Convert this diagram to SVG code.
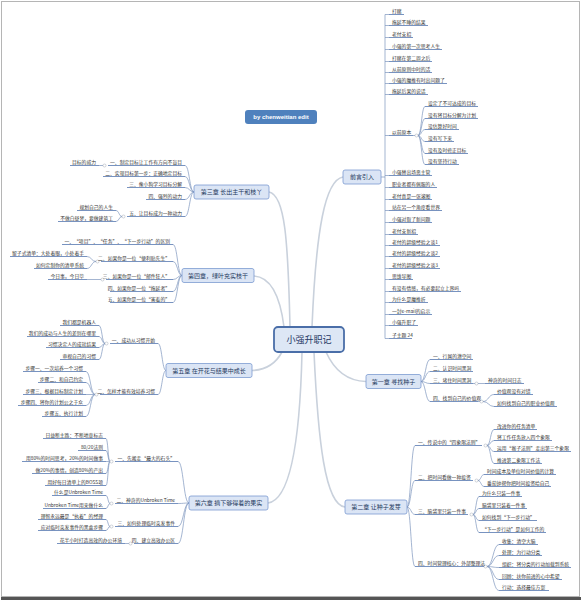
<svg xmlns="http://www.w3.org/2000/svg" width="582" height="602" viewBox="0 0 582 602">
<style>
text{font-family:"Noto Sans CJK SC","Noto Sans",sans-serif}
.t{font-size:4.8px;fill:#333}
.e{text-anchor:end}
.u{stroke:#5577b0;stroke-width:0.8;fill:none}
.f{stroke:#7d95bd;stroke-width:0.7;fill:none}
.m{stroke:#c9d1dc;stroke-width:1.6;fill:none;stroke-linecap:round}
.ch{fill:#dbe5f5;stroke:#7b9bd0;stroke-width:0.8}
.ct{font-size:6px;fill:#1f3a60;text-anchor:middle}
.d{fill:#fff;stroke:#a0a8b4;stroke-width:0.5}
</style>
<rect x="0" y="0" width="582" height="602" fill="#fff"/>
<rect x="1.5" y="1.5" width="578" height="595" fill="#fff" stroke="#b5b5b5" stroke-width="1"/>
<rect x="1" y="597" width="580" height="3" fill="#555"/>

<g id="connectors">
<path class="m" d="M312 327 C316 230 325 180 343 177"/>
<path class="m" d="M290 327 C288 240 285 195 269 192"/>
<path class="m" d="M284 327 C280 295 270 277 254 276"/>
<path class="m" d="M282 352 C275 365 265 370 252 370.5"/>
<path class="m" d="M326 352 C335 372 348 381 366 381.5"/>
<path class="m" d="M314 352 C318 440 325 505 345 507"/>
<path class="m" d="M302 352 C300 440 290 500 268 503"/>
<!-- 前言引入 fan -->
<path class="f" d="M381 177H385V14.5H389M385 338.5V177M385 25.5H389M385 37.5H389M385 49.5H389M385 61.5H389M385 72.5H389M385 83.5H389M385 94.5H389M385 135.5H389M385 175.5H389M385 187.5H389M385 199.5H389M385 210.5H389M385 222.5H389M385 234.5H389M385 245.5H389M385 256.5H389M385 268.5H389M385 279.5H389M385 291.5H389M385 302.5H389M385 314.5H389M385 325.5H389M385 338.5H389"/>
<path class="f" d="M418 135.5C421.5 135.5 421.5 106.5 425 106.5M418 135.5C421.5 135.5 421.5 118.5 425 118.5M418 135.5C421.5 135.5 421.5 129.5 425 129.5M418 135.5C421.5 135.5 421.5 141.5 425 141.5M418 135.5C421.5 135.5 421.5 153.5 425 153.5M418 135.5C421.5 135.5 421.5 164.5 425 164.5M413 135.5H415"/>
<!-- 第一章 -->
<path class="f" d="M421 381.5C425.5 381.5 425.5 359.5 430 359.5M421 381.5C425.5 381.5 425.5 371.5 430 371.5M421 381.5C425.5 381.5 425.5 383.5 430 383.5M421 381.5C425.5 381.5 425.5 401.5 430 401.5"/>
<path class="f" d="M473 383.5H475M478 383.5H485M478 401.5H480M483 401.5C488.5 401.5 488.5 394.5 494 394.5M483 401.5C488.5 401.5 488.5 406.5 494 406.5"/>
<!-- 第二章 -->
<path class="f" d="M407 507C411 507 411 445.5 415 445.5M407 507C411 507 411 480.5 415 480.5M407 507C411 507 411 514.5 415 514.5M407 507C411 507 411 566.5 415 566.5"/>
<path class="f" d="M487 445.5C490.5 445.5 490.5 429.5 494 429.5M487 445.5C490.5 445.5 490.5 440.5 494 440.5M487 445.5C490.5 445.5 490.5 451.5 494 451.5M487 445.5C490.5 445.5 490.5 463.5 494 463.5"/>
<path class="f" d="M478 480.5C481 480.5 481 474.5 484 474.5M478 480.5C481 480.5 481 486.5 484 486.5"/>
<path class="f" d="M473 514.5C476 514.5 476 496.5 479 496.5M473 514.5C476 514.5 476 508.5 479 508.5M473 514.5C476 514.5 476 520.5 479 520.5M473 514.5C476 514.5 476 532.5 479 532.5"/>
<path class="f" d="M487 566.5C493 566.5 493 544.5 499 544.5M487 566.5C493 566.5 493 555.5 499 555.5M487 566.5C493 566.5 493 567.5 499 567.5M487 566.5C493 566.5 493 579.5 499 579.5M487 566.5C493 566.5 493 590.5 499 590.5"/>
<!-- 第三章 -->
<path class="f" d="M194 192C189.5 192 189.5 165.5 185 165.5M194 192C189.5 192 189.5 176.5 185 176.5M194 192C189.5 192 189.5 187.5 185 187.5M194 192C189.5 192 189.5 199.5 185 199.5M194 192C189.5 192 189.5 216.5 185 216.5"/>
<path class="f" d="M103 165.5H99M122 216.5C119 216.5 119 210.5 116 210.5M122 216.5C119 216.5 119 221.5 116 221.5"/>
<!-- 第四章 -->
<path class="f" d="M182 275.5C177.5 275.5 177.5 244.5 173 244.5M182 275.5C177.5 275.5 177.5 261.5 173 261.5M182 275.5C177.5 275.5 177.5 279.5 173 279.5M182 275.5C177.5 275.5 177.5 291.5 173 291.5M182 275.5C177.5 275.5 177.5 302.5 173 302.5"/>
<path class="f" d="M96 261.5C91.5 261.5 91.5 256.5 87 256.5M96 261.5C91.5 261.5 91.5 268.5 87 268.5M101 279.5H87"/>
<!-- 第五章 -->
<path class="f" d="M166 370.5C162 370.5 162 343.5 158 343.5M166 370.5C162 370.5 162 394.5 158 394.5"/>
<path class="f" d="M105 343.5C102 343.5 102 325.5 99 325.5M105 343.5C102 343.5 102 336.5 99 336.5M105 343.5C102 343.5 102 347.5 99 347.5M105 343.5C102 343.5 102 359.5 99 359.5"/>
<path class="f" d="M95 394.5C90.5 394.5 90.5 371.5 86 371.5M95 394.5C90.5 394.5 90.5 382.5 86 382.5M95 394.5H86M95 394.5C90.5 394.5 90.5 405.5 86 405.5M95 394.5C90.5 394.5 90.5 416.5 86 416.5"/>
<!-- 第六章 -->
<path class="f" d="M189 503C183.5 503 183.5 461.5 178 461.5M189 503C183.5 503 183.5 503.5 178 503.5M189 503C183.5 503 183.5 526.5 178 526.5M189 503C183.5 503 183.5 543.5 178 543.5"/>
<path class="f" d="M110 461.5C108 461.5 108 438.5 106 438.5M110 461.5C108 461.5 108 450.5 106 450.5M110 461.5H106M110 461.5C108 461.5 108 473.5 106 473.5M110 461.5C108 461.5 108 485.5 106 485.5"/>
<path class="f" d="M110 503.5C108 503.5 108 495.5 106 495.5M110 503.5C108 503.5 108 508.5 106 508.5M110 526.5C108 526.5 108 519.5 106 519.5M110 526.5C108 526.5 108 530.5 106 530.5M129 543.5H125"/>
<g id="toggles">
<circle class="d" cx="416.5" cy="135.5" r="1.5"/><circle class="d" cx="476.5" cy="383.5" r="1.5"/><circle class="d" cx="481.5" cy="401.5" r="1.5"/>
<circle class="d" cx="485.5" cy="445.5" r="1.5"/><circle class="d" cx="476.5" cy="480.5" r="1.5"/><circle class="d" cx="471.5" cy="514.5" r="1.5"/><circle class="d" cx="485.5" cy="566.5" r="1.5"/>
<circle class="d" cx="104.5" cy="165.5" r="1.5"/><circle class="d" cx="123.5" cy="216.5" r="1.5"/><circle class="d" cx="97.5" cy="261.5" r="1.5"/><circle class="d" cx="102.5" cy="279.5" r="1.5"/>
<circle class="d" cx="106.5" cy="343.5" r="1.5"/><circle class="d" cx="96.5" cy="394.5" r="1.5"/>
<circle class="d" cx="111.5" cy="461.5" r="1.5"/><circle class="d" cx="111.5" cy="503.5" r="1.5"/><circle class="d" cx="111.5" cy="526.5" r="1.5"/><circle class="d" cx="130.5" cy="543.5" r="1.5"/>
</g>
</g>

<g id="center"><rect x="274" y="327" width="70" height="25" rx="4" fill="#dde7f5" stroke="#4a6ea8" stroke-width="1.8"/><text x="309" y="343" font-size="9" fill="#1f3864" text-anchor="middle">小强升职记</text></g>
<g id="credit"><rect x="245" y="110" width="72" height="14" rx="3" fill="#4f81bd"/><text x="281" y="119" font-size="6" font-weight="bold" fill="#fff" text-anchor="middle" style="font-family:'Liberation Sans',sans-serif">by chenweitian edit</text></g>

<g id="ch0"><rect class="ch" x="343" y="170" width="38" height="14" rx="2"/><text class="ct" x="362" y="179.2">前言引入</text></g>
<g id="ch1"><rect class="ch" x="366" y="374.5" width="55" height="14" rx="2"/><text class="ct" x="393.5" y="383.7">第一章 寻找种子</text></g>
<g id="ch2"><rect class="ch" x="345" y="500" width="62" height="14" rx="2"/><text class="ct" x="376" y="509.2">第二章 让种子发芽</text></g>
<g id="ch3"><rect class="ch" x="194" y="185" width="75" height="14" rx="2"/><text class="ct" x="231.5" y="194.2">第三章 长出主干和枝丫</text></g>
<g id="ch4"><rect class="ch" x="182" y="268.5" width="72" height="14" rx="2"/><text class="ct" x="218" y="277.7">第四章，绿叶充实枝干</text></g>
<g id="ch5"><rect class="ch" x="166" y="363.5" width="86" height="14" rx="2"/><text class="ct" x="209" y="372.7">第五章 在开花与结果中成长</text></g>
<g id="ch6"><rect class="ch" x="189" y="496" width="79" height="14" rx="2"/><text class="ct" x="228.5" y="505.2">第六章 摘下够得着的果实</text></g>

<g id="n-a1"><text class="t" x="392" y="12.7">打赌</text><path class="u" d="M389 14.5H404"/></g>
<g id="n-a2"><text class="t" x="392" y="23.7">拖延不睡的结果</text><path class="u" d="M389 25.5H428"/></g>
<g id="n-a3"><text class="t" x="392" y="35.7">老付支招</text><path class="u" d="M389 37.5H413"/></g>
<g id="n-a4"><text class="t" x="392" y="47.7">小强的第一次思考人生</text><path class="u" d="M389 49.5H442"/></g>
<g id="n-a5"><text class="t" x="392" y="59.7">打赌在第二周之后</text><path class="u" d="M389 61.5H432"/></g>
<g id="n-a6"><text class="t" x="392" y="70.7">从前原则中时的活</text><path class="u" d="M389 72.5H432"/></g>
<g id="n-a7"><text class="t" x="392" y="81.7">小强的魔推有时出问题了</text><path class="u" d="M389 83.5H447"/></g>
<g id="n-a8"><text class="t" x="392" y="92.7">拖延后果的说话</text><path class="u" d="M389 94.5H428"/></g>
<g id="n-a9"><text class="t" x="392" y="133.7">以前原本</text><path class="u" d="M389 135.5H413"/></g>
<g id="n-b1"><text class="t" x="428" y="104.7">设定了不可达成的目标</text><path class="u" d="M425 106.5H478"/></g>
<g id="n-b2"><text class="t" x="428" y="116.7">没有将目标分解为计划</text><path class="u" d="M425 118.5H478"/></g>
<g id="n-b3"><text class="t" x="428" y="127.7">没估算好时间</text><path class="u" d="M425 129.5H459"/></g>
<g id="n-b4"><text class="t" x="428" y="139.7">没有写下来</text><path class="u" d="M425 141.5H454"/></g>
<g id="n-b5"><text class="t" x="428" y="151.7">没有及时修正目标</text><path class="u" d="M425 153.5H468"/></g>
<g id="n-b6"><text class="t" x="428" y="162.7">没有坚持行动</text><path class="u" d="M425 164.5H459"/></g>
<g id="n-a10"><text class="t" x="392" y="173.7">小强替出场恶主管</text><path class="u" d="M389 175.5H432"/></g>
<g id="n-a11"><text class="t" x="392" y="185.7">职业者都有佩服的人</text><path class="u" d="M389 187.5H437"/></g>
<g id="n-a12"><text class="t" x="392" y="197.7">老付真是一张滚图</text><path class="u" d="M389 199.5H432"/></g>
<g id="n-a13"><text class="t" x="392" y="208.7">站在另一个角度看世界</text><path class="u" d="M389 210.5H442"/></g>
<g id="n-a14"><text class="t" x="392" y="220.7">小强对取了新问题</text><path class="u" d="M389 222.5H432"/></g>
<g id="n-a15"><text class="t" x="392" y="232.7">老付支新招</text><path class="u" d="M389 234.5H418"/></g>
<g id="n-a16"><text class="t" x="392" y="243.7">老付的超级经验之谈1</text><path class="u" d="M389 245.5H440"/></g>
<g id="n-a17"><text class="t" x="392" y="254.7">老付的超级经验之谈2</text><path class="u" d="M389 256.5H440"/></g>
<g id="n-a18"><text class="t" x="392" y="266.7">老付的超级经验之谈3</text><path class="u" d="M389 268.5H440"/></g>
<g id="n-a19"><text class="t" x="392" y="277.7">思维导图</text><path class="u" d="M389 279.5H413"/></g>
<g id="n-a20"><text class="t" x="392" y="289.7">有没有情感，有必要起立上界吗</text><path class="u" d="M389 291.5H461"/></g>
<g id="n-a21"><text class="t" x="392" y="300.7">为什么是魔推折</text><path class="u" d="M389 302.5H428"/></g>
<g id="n-a22"><text class="t" x="392" y="312.7">一封e-mail的启示</text><path class="u" d="M389 314.5H432"/></g>
<g id="n-a23"><text class="t" x="392" y="323.7">小强升职了</text><path class="u" d="M389 325.5H418"/></g>
<g id="n-a24"><text class="t" x="392" y="336.7">子主题 24</text><path class="u" d="M389 338.5H412"/></g>

<g id="n-c1"><text class="t" x="433" y="357.7">一、行属的潜空间</text><path class="u" d="M430 359.5H473"/></g>
<g id="n-c2"><text class="t" x="433" y="369.7">二、认识时间黑洞</text><path class="u" d="M430 371.5H473"/></g>
<g id="n-c3"><text class="t" x="433" y="381.7">三、堵住时间黑洞</text><path class="u" d="M430 383.5H473"/></g>
<g id="n-c3a"><text class="t" x="488" y="381.7">神奇的时间日志</text><path class="u" d="M485 383.5H524"/></g>
<g id="n-c4"><text class="t" x="433" y="399.7">四、找到自己的价值观</text><path class="u" d="M430 401.5H478"/></g>
<g id="n-c4a"><text class="t" x="497" y="392.7">价值观没有对错</text><path class="u" d="M494 394.5H533"/></g>
<g id="n-c4b"><text class="t" x="497" y="404.7">如何找到自己的职业价值观</text><path class="u" d="M494 406.5H557"/></g>

<g id="n-d1"><text class="t" x="418" y="443.7">一、传说中的“四象限法则”</text><path class="u" d="M415 445.5H482"/></g>
<g id="n-d1a"><text class="t" x="497" y="427.7">改进你的任务清单</text><path class="u" d="M494 429.5H537"/></g>
<g id="n-d1b"><text class="t" x="497" y="438.7">将工作任务放入四个象限</text><path class="u" d="M494 440.5H552"/></g>
<g id="n-d1c"><text class="t" x="497" y="449.7">运用“猴子法则”走出第三个象限</text><path class="u" d="M494 451.5H571"/></g>
<g id="n-d1d"><text class="t" x="497" y="461.7">推进第二象限工作法</text><path class="u" d="M494 463.5H542"/></g>
<g id="n-d2"><text class="t" x="418" y="478.7">二、把时间看做一种投资</text><path class="u" d="M415 480.5H473"/></g>
<g id="n-d2a"><text class="t" x="487" y="472.7">时间成本及单位时间价值的计算</text><path class="u" d="M484 474.5H556"/></g>
<g id="n-d2b"><text class="t" x="487" y="484.7">番茄钟帮你把时间投资给自己</text><path class="u" d="M484 486.5H551"/></g>
<g id="n-d3"><text class="t" x="418" y="512.7">三、脑袋里只装一件事</text><path class="u" d="M415 514.5H468"/></g>
<g id="n-d3a"><text class="t" x="482" y="494.7">为什么只装一件事</text><path class="u" d="M479 496.5H522"/></g>
<g id="n-d3b"><text class="t" x="482" y="506.7">脑袋里只装着一件事</text><path class="u" d="M479 508.5H527"/></g>
<g id="n-d3c"><text class="t" x="482" y="518.7">如何找到“下一步行动”</text><path class="u" d="M479 520.5H537"/></g>
<g id="n-d3d"><text class="t" x="482" y="530.7">“下一步行动”是如何工作的</text><path class="u" d="M479 532.5H546"/></g>
<g id="n-d4"><text class="t" x="418" y="564.7">四、时间管理核心：外部整理法</text><path class="u" d="M415 566.5H484"/></g>
<g id="n-d4a"><text class="t" x="502" y="542.7">收集：清空大脑</text><path class="u" d="M499 544.5H538"/></g>
<g id="n-d4b"><text class="t" x="502" y="553.7">处理：为行动分类</text><path class="u" d="M499 555.5H542"/></g>
<g id="n-d4c"><text class="t" x="502" y="565.7">组织：将分类的行动加载到系统</text><path class="u" d="M499 567.5H571"/></g>
<g id="n-d4d"><text class="t" x="502" y="577.7">回顾：扶你前进的心中希望</text><path class="u" d="M499 579.5H562"/></g>
<g id="n-d4e"><text class="t" x="502" y="588.7">行动：选择最佳方案</text><path class="u" d="M499 590.5H549"/></g>

<g id="n-e1"><text class="t e" x="182" y="163.7">一、制定目标让工作有方向不盲目</text><path class="u" d="M108 165.5H185"/></g>
<g id="n-e1a"><text class="t e" x="96" y="163.7">目标的威力</text><path class="u" d="M70 165.5H99"/></g>
<g id="n-e2"><text class="t e" x="182" y="174.7">二、实现目标第一步：正确地定目标</text><path class="u" d="M103 176.5H185"/></g>
<g id="n-e3"><text class="t e" x="182" y="185.7">三、像小狗学习目标分解</text><path class="u" d="M127 187.5H185"/></g>
<g id="n-e4"><text class="t e" x="182" y="197.7">四、强烈的动力</text><path class="u" d="M146 199.5H185"/></g>
<g id="n-e5"><text class="t e" x="182" y="214.7">五、让目标成为一种动力</text><path class="u" d="M127 216.5H185"/></g>
<g id="n-e5a"><text class="t e" x="113" y="208.7">规划自己的人生</text><path class="u" d="M77 210.5H116"/></g>
<g id="n-e5b"><text class="t e" x="113" y="219.7">不做白昼梦，要做建筑工</text><path class="u" d="M58 221.5H116"/></g>

<g id="n-f1"><text class="t e" x="170" y="242.7">一、“项目”、“任务”、“下一步行动”的区别</text><path class="u" d="M62 244.5H173"/></g>
<g id="n-f2"><text class="t e" x="170" y="259.7">二、如果你是一位“便利贴先生”</text><path class="u" d="M101 261.5H173"/></g>
<g id="n-f2a"><text class="t e" x="84" y="254.7">留子式清单：大处着眼，小处着手</text><path class="u" d="M10 256.5H87"/></g>
<g id="n-f2b"><text class="t e" x="84" y="266.7">如何定制你的清单系统</text><path class="u" d="M34 268.5H87"/></g>
<g id="n-f3"><text class="t e" x="170" y="277.7">三、如果你是一位“邮件狂人”</text><path class="u" d="M106 279.5H173"/></g>
<g id="n-f3a"><text class="t e" x="84" y="277.7">今日事，今日毕</text><path class="u" d="M48 279.5H87"/></g>
<g id="n-f4"><text class="t e" x="170" y="289.7">四、如果你是一位“拖延者”</text><path class="u" d="M110 291.5H173"/></g>
<g id="n-f5"><text class="t e" x="170" y="300.7">五、如果你是一位“害羞的”</text><path class="u" d="M110 302.5H173"/></g>

<g id="n-g1"><text class="t e" x="155" y="341.7">一、成功从习惯开始</text><path class="u" d="M110 343.5H158"/></g>
<g id="n-g1a"><text class="t e" x="96" y="323.7">我们都是机器人</text><path class="u" d="M60 325.5H99"/></g>
<g id="n-g1b"><text class="t e" x="96" y="334.7">我们的成功与人生的差别在哪里</text><path class="u" d="M27 336.5H99"/></g>
<g id="n-g1c"><text class="t e" x="96" y="345.7">习惯决定人的成就结果</text><path class="u" d="M46 347.5H99"/></g>
<g id="n-g1d"><text class="t e" x="96" y="357.7">审视自己的习惯</text><path class="u" d="M60 359.5H99"/></g>
<g id="n-g2"><text class="t e" x="155" y="392.7">二、怎样才能有效培养习惯</text><path class="u" d="M100 394.5H158"/></g>
<g id="n-g2a"><text class="t e" x="83" y="369.7">步骤一、一次培养一个习惯</text><path class="u" d="M23 371.5H86"/></g>
<g id="n-g2b"><text class="t e" x="83" y="380.7">步骤二、和自己约定</text><path class="u" d="M38 382.5H86"/></g>
<g id="n-g2c"><text class="t e" x="83" y="392.7">步骤三、根据目标制定计划</text><path class="u" d="M23 394.5H86"/></g>
<g id="n-g2d"><text class="t e" x="83" y="403.7">步骤四、将你的计划公之于众</text><path class="u" d="M18 405.5H86"/></g>
<g id="n-g2e"><text class="t e" x="83" y="414.7">步骤五、执行计划</text><path class="u" d="M42 416.5H86"/></g>

<g id="n-h1"><text class="t e" x="175" y="459.7">一、先搬走“最大的石头”</text><path class="u" d="M115 461.5H178"/></g>
<g id="n-h1a"><text class="t e" x="103" y="436.7">日益断主路：不断地查标志</text><path class="u" d="M43 438.5H106"/></g>
<g id="n-h1b"><text class="t e" x="103" y="448.7">80/20法则</text><path class="u" d="M78 450.5H106"/></g>
<g id="n-h1c"><text class="t e" x="103" y="459.7">用80%的时间思考，20%的时间做事</text><path class="u" d="M22 461.5H106"/></g>
<g id="n-h1d"><text class="t e" x="103" y="471.7">做20%的事情，创造80%的产出</text><path class="u" d="M32 473.5H106"/></g>
<g id="n-h1e"><text class="t e" x="103" y="483.7">用好每日清单上的BOSS项</text><path class="u" d="M45 485.5H106"/></g>
<g id="n-h2"><text class="t e" x="175" y="501.7">二、神奇的Unbroken Time</text><path class="u" d="M115 503.5H178"/></g>
<g id="n-h2a"><text class="t e" x="103" y="493.7">什么是Unbroken Time</text><path class="u" d="M52 495.5H106"/></g>
<g id="n-h2b"><text class="t e" x="103" y="506.7">Unbroken Time用来做什么</text><path class="u" d="M43 508.5H106"/></g>
<g id="n-h3"><text class="t e" x="175" y="524.7">三、如何处理临时突发事件</text><path class="u" d="M115 526.5H178"/></g>
<g id="n-h3a"><text class="t e" x="103" y="517.7">理智永远最是“执着”的经理</text><path class="u" d="M38 519.5H106"/></g>
<g id="n-h3b"><text class="t e" x="103" y="528.7">应对临时突发事件的黑盒步骤</text><path class="u" d="M38 530.5H106"/></g>
<g id="n-h4"><text class="t e" x="175" y="541.7">四、建立高效办公区</text><path class="u" d="M134 543.5H178"/></g>
<g id="n-h4a"><text class="t e" x="122" y="541.7">花半小时打造高效的办公环境</text><path class="u" d="M57 543.5H125"/></g>
</svg>
